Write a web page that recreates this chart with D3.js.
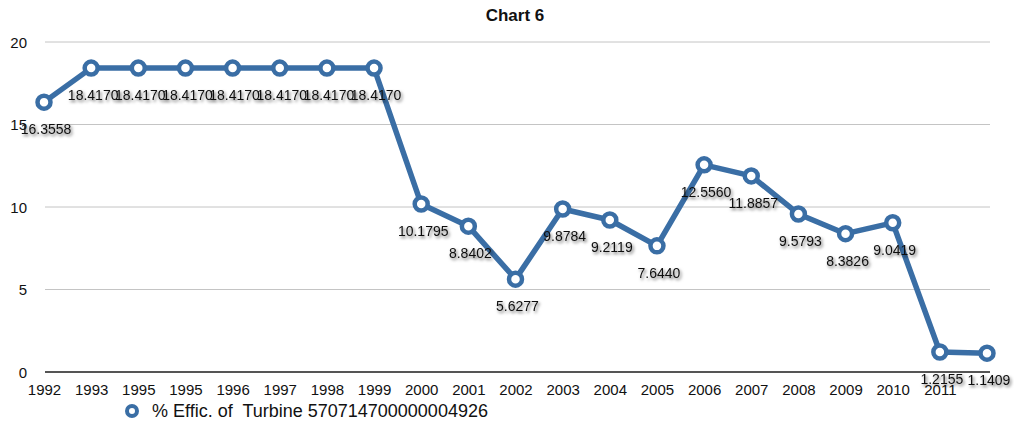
<!DOCTYPE html>
<html>
<head>
<meta charset="utf-8">
<script src="https://cdn.jsdelivr.net/npm/d3@7"></script>
<style>
  html, body { margin: 0; padding: 0; background: #fff; }
  svg { display: block; font-family: "Liberation Sans", Arial, Helvetica, sans-serif; }
</style>
</head>
<body>
<svg id="chart" width="1014" height="425"></svg>
<script>
// Category labels along the x axis (the final point carries no label)
const categories = ["1992", "1993", "1995", "1995", "1996", "1997", "1998", "1999", "2000", "2001",
                    "2002", "2003", "2004", "2005", "2006", "2007", "2008", "2009", "2010", "2011", ""];
// % efficiency values per point
const values = [16.3558, 18.4170, 18.4170, 18.4170, 18.4170, 18.4170, 18.4170, 18.4170, 10.1795, 8.8402,
                5.6277, 9.8784, 9.2119, 7.6440, 12.5560, 11.8857, 9.5793, 8.3826, 9.0419, 1.2155, 1.1409];
const yTicks = [0, 5, 10, 15, 20];
const seriesName = "% Effic. of  Turbine 570714700000004926";
const chartTitle = "Chart 6";

const lineColor = "#3a6ea5";
const svg = d3.select("#chart");

const x = d3.scalePoint().domain(d3.range(categories.length)).range([44, 987]).padding(0);
const y = d3.scaleLinear().domain([0, 20]).range([372, 42]);

// drop shadow for value labels
const defs = svg.append("defs");
const f = defs.append("filter").attr("id", "shadow").attr("x", "-20%").attr("y", "-40%")
  .attr("width", "140%").attr("height", "180%");
f.append("feDropShadow").attr("dx", 1.5).attr("dy", 2).attr("stdDeviation", 1.4)
  .attr("flood-color", "#000").attr("flood-opacity", 0.6);

// title
svg.append("text").attr("x", 515).attr("y", 21).attr("text-anchor", "middle")
  .attr("font-size", 17).attr("font-weight", "bold").attr("fill", "#111").text(chartTitle);

// horizontal gridlines and y axis labels
const yAxis = d3.axisLeft(y).tickValues(yTicks).tickSize(0).tickPadding(0);
const gy = svg.append("g").attr("transform", "translate(27,0)").call(yAxis);
gy.select(".domain").remove();
gy.selectAll("text").attr("font-size", 15).attr("fill", "#111")
  .attr("font-family", "'Liberation Sans', Arial, sans-serif").attr("dy", "0.35em");

svg.append("g").selectAll("line").data(yTicks).join("line")
  .attr("x1", 45).attr("x2", 990)
  .attr("y1", d => y(d)).attr("y2", d => y(d))
  .attr("stroke", d => d === 0 ? "#555" : "#c4c4c4")
  .attr("stroke-width", d => d === 0 ? 2 : 1);

// x axis labels
const xAxis = d3.axisBottom(x).tickFormat(i => categories[i]).tickSize(0).tickPadding(0);
const gx = svg.append("g").attr("transform", "translate(0,382)").call(xAxis);
gx.select(".domain").remove();
gx.selectAll("text").attr("font-size", 15).attr("fill", "#111")
  .attr("font-family", "'Liberation Sans', Arial, sans-serif").attr("dy", "0.85em");

// series line
const line = d3.line().x((d, i) => x(i)).y(d => y(d));
svg.append("path").datum(values).attr("d", line)
  .attr("fill", "none").attr("stroke", lineColor).attr("stroke-width", 5.5)
  .attr("stroke-linejoin", "round");

// markers
svg.append("g").selectAll("circle").data(values).join("circle")
  .attr("cx", (d, i) => x(i)).attr("cy", d => y(d)).attr("r", 6.5)
  .attr("fill", "#fff").attr("stroke", lineColor).attr("stroke-width", 4.5);

// value labels
svg.append("g").attr("filter", "url(#shadow)").selectAll("text").data(values).join("text")
  .attr("x", (d, i) => x(i) + 2).attr("y", d => y(d) + 32)
  .attr("text-anchor", "middle").attr("font-size", 14).attr("fill", "#111")
  .text(d => d.toFixed(4));

// legend
const lg = svg.append("g").attr("transform", "translate(132,411)");
lg.append("circle").attr("r", 5).attr("fill", "#fff").attr("stroke", lineColor).attr("stroke-width", 4);
lg.append("text").attr("x", 20).attr("y", 6).attr("font-size", 18).attr("fill", "#111")
  .attr("xml:space", "preserve").style("white-space", "pre").text(seriesName);
</script>
</body>
</html>
